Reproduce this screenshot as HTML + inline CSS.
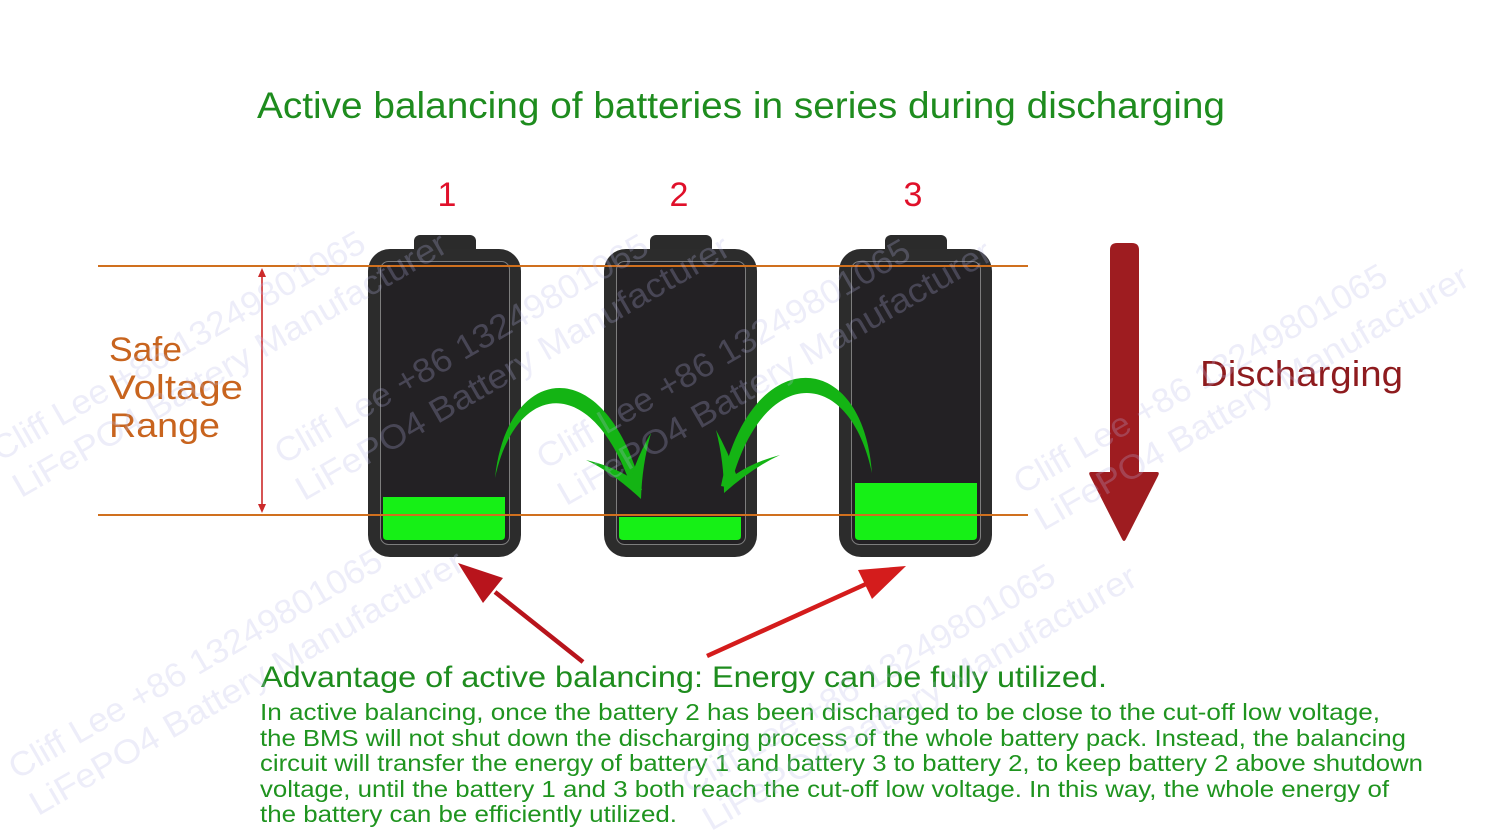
<!DOCTYPE html>
<html><head><meta charset="utf-8"><style>
html,body{margin:0;padding:0;background:#fff;}
svg{display:block;}
text{font-family:"Liberation Sans",sans-serif;}
</style></head><body>
<svg width="1488" height="837" viewBox="0 0 1488 837" xmlns="http://www.w3.org/2000/svg">
<rect width="1488" height="837" fill="#fff"/>

<!-- Title -->
<text x="257" y="118" font-size="37" fill="#1e8c1e" textLength="968" lengthAdjust="spacingAndGlyphs">Active balancing of batteries in series during discharging</text>

<!-- Numbers -->
<text x="447" y="206" font-size="34" fill="#e0102a" text-anchor="middle">1</text>
<text x="679" y="206" font-size="34" fill="#e0102a" text-anchor="middle">2</text>
<text x="913" y="206" font-size="34" fill="#e0102a" text-anchor="middle">3</text>

<!-- Batteries -->
<g>
  <rect x="414" y="235" width="62" height="20" rx="6" fill="#2b2b2b"/>
  <rect x="368" y="249" width="153" height="308" rx="22" fill="#2c2c2c"/>
  <rect x="380.5" y="261.5" width="129" height="283" rx="8" fill="#232124" stroke="#7d7d7d" stroke-width="1"/>
  <path d="M383,497 H505 V536 Q505,540 501,540 H387 Q383,540 383,536 Z" fill="#16f016"/>

  <rect x="650" y="235" width="62" height="20" rx="6" fill="#2b2b2b"/>
  <rect x="604" y="249" width="153" height="308" rx="22" fill="#2c2c2c"/>
  <rect x="616.5" y="261.5" width="129" height="283" rx="8" fill="#232124" stroke="#7d7d7d" stroke-width="1"/>
  <path d="M619,517 H741 V536 Q741,540 737,540 H623 Q619,540 619,536 Z" fill="#16f016"/>

  <rect x="885" y="235" width="62" height="20" rx="6" fill="#2b2b2b"/>
  <rect x="839" y="249" width="153" height="308" rx="22" fill="#2c2c2c"/>
  <rect x="851.5" y="261.5" width="129" height="283" rx="8" fill="#232124" stroke="#7d7d7d" stroke-width="1"/>
  <path d="M855,483 H977 V536 Q977,540 973,540 H859 Q855,540 855,536 Z" fill="#16f016"/>
</g>

<!-- Orange limit lines -->
<line x1="98" y1="266" x2="1028" y2="266" stroke="#d0701e" stroke-width="2"/>
<line x1="98" y1="515" x2="1028" y2="515" stroke="#d0701e" stroke-width="2"/>

<!-- Red double arrow -->
<line x1="262" y1="274" x2="262" y2="507" stroke="#cc2a2a" stroke-width="1.6"/>
<polygon points="262,268 258,277 266,277" fill="#cc2a2a"/>
<polygon points="262,513 258,504 266,504" fill="#cc2a2a"/>

<!-- Safe Voltage Range -->
<text x="109" y="361" font-size="34" fill="#c8641e" textLength="73" lengthAdjust="spacingAndGlyphs">Safe</text>
<text x="109" y="399" font-size="34" fill="#c8641e" textLength="134" lengthAdjust="spacingAndGlyphs">Voltage</text>
<text x="109" y="437" font-size="34" fill="#c8641e" textLength="111" lengthAdjust="spacingAndGlyphs">Range</text>

<!-- Green curved arrows -->
<path d="M495,478 C507,362 606,350 642,490 L633,492 C594,372 516,380 495,478 Z" fill="#14b414"/>
<path d="M641,499 Q612,472 586,460 Q612,466 631,478 Q638,455 651,433 Q642,465 641,499 Z" fill="#14b414"/>

<path d="M872,473 C863,346 750,342 721,486 L730,488 C761,364 849,364 872,473 Z" fill="#14b414"/>
<path d="M724,493 Q752,468 780,455 Q754,462 736,474 Q728,452 716,430 Q724,462 724,493 Z" fill="#14b414"/>

<!-- Discharging arrow -->
<path d="M1110,250 Q1110,243 1117,243 H1132 Q1139,243 1139,250 V474 H1110 Z" fill="#9e1c20"/>
<path d="M1091,472 L1157,472 Q1160,472 1158,476 L1126,539 Q1124,543 1122,539 L1090,476 Q1088,472 1091,472 Z" fill="#9e1c20"/>
<text x="1200" y="386" font-size="36" fill="#8e1b1e" textLength="203" lengthAdjust="spacingAndGlyphs">Discharging</text>

<!-- Red pointer arrows -->
<line x1="583" y1="662" x2="495" y2="592" stroke="#b8141c" stroke-width="4.5"/>
<polygon points="458,563 503,578 483,603" fill="#b8141c"/>
<line x1="707" y1="656" x2="866" y2="584" stroke="#d41c1c" stroke-width="4.5"/>
<polygon points="906,566 872,599 858,570" fill="#d41c1c"/>

<!-- Bottom text -->
<text x="261" y="687" font-size="30" fill="#1e8c1e" textLength="846" lengthAdjust="spacingAndGlyphs">Advantage of active balancing: Energy can be fully utilized.</text>
<g font-size="23" fill="#1f941f">
<text x="260" y="720" textLength="1120" lengthAdjust="spacingAndGlyphs">In active balancing, once the battery 2 has been discharged to be close to the cut-off low voltage,</text>
<text x="260" y="746" textLength="1146" lengthAdjust="spacingAndGlyphs">the BMS will not shut down the discharging process of the whole battery pack. Instead, the balancing</text>
<text x="260" y="771" textLength="1163" lengthAdjust="spacingAndGlyphs">circuit will transfer the energy of battery 1 and battery 3 to battery 2, to keep battery 2 above shutdown</text>
<text x="260" y="797" textLength="1129" lengthAdjust="spacingAndGlyphs">voltage, until the battery 1 and 3 both reach the cut-off low voltage. In this way, the whole energy of</text>
<text x="260" y="822" textLength="417" lengthAdjust="spacingAndGlyphs">the battery can be efficiently utilized.</text>
</g>

<!-- Watermarks -->
<g fill="#b8b8e6" fill-opacity="0.25" font-size="34">
  <g transform="translate(0,462) rotate(-30)">
    <text x="0" y="0" textLength="425" lengthAdjust="spacingAndGlyphs">Cliff Lee +86 13249801065</text>
    <text x="0" y="42" textLength="495" lengthAdjust="spacingAndGlyphs">LiFePO4 Battery Manufacturer</text>
  </g>
  <g transform="translate(283,465) rotate(-30)">
    <text x="0" y="0" textLength="425" lengthAdjust="spacingAndGlyphs">Cliff Lee +86 13249801065</text>
    <text x="0" y="42" textLength="495" lengthAdjust="spacingAndGlyphs">LiFePO4 Battery Manufacturer</text>
  </g>
  <g transform="translate(545,470) rotate(-30)">
    <text x="0" y="0" textLength="425" lengthAdjust="spacingAndGlyphs">Cliff Lee +86 13249801065</text>
    <text x="0" y="42" textLength="495" lengthAdjust="spacingAndGlyphs">LiFePO4 Battery Manufacturer</text>
  </g>
  <g transform="translate(1022,495) rotate(-30)">
    <text x="0" y="0" textLength="425" lengthAdjust="spacingAndGlyphs">Cliff Lee +86 13249801065</text>
    <text x="0" y="42" textLength="495" lengthAdjust="spacingAndGlyphs">LiFePO4 Battery Manufacturer</text>
  </g>
  <g transform="translate(17,780) rotate(-30)">
    <text x="0" y="0" textLength="425" lengthAdjust="spacingAndGlyphs">Cliff Lee +86 13249801065</text>
    <text x="0" y="42" textLength="495" lengthAdjust="spacingAndGlyphs">LiFePO4 Battery Manufacturer</text>
  </g>
  <g transform="translate(690,795) rotate(-30)">
    <text x="0" y="0" textLength="425" lengthAdjust="spacingAndGlyphs">Cliff Lee +86 13249801065</text>
    <text x="0" y="42" textLength="495" lengthAdjust="spacingAndGlyphs">LiFePO4 Battery Manufacturer</text>
  </g>
</g>
</svg>
</body></html>
